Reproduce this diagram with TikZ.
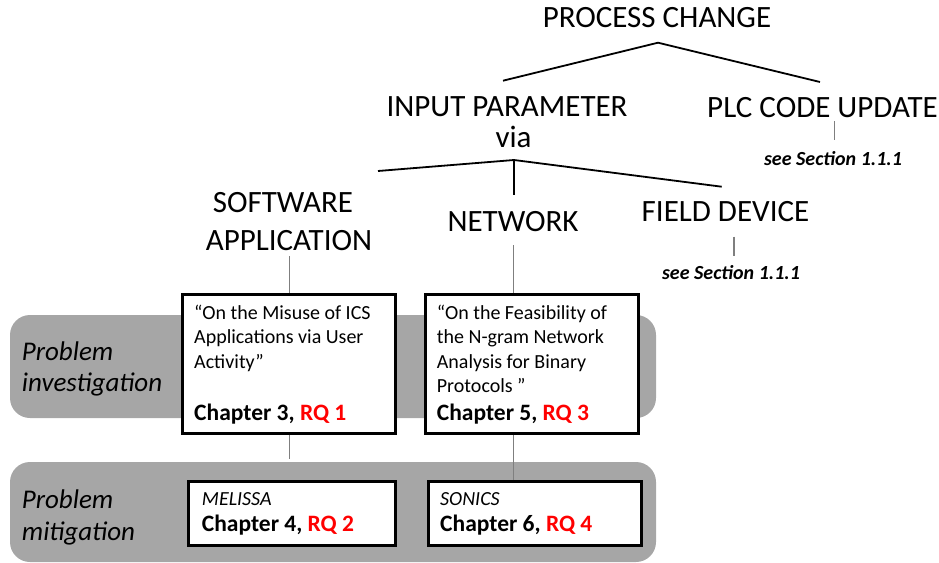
\documentclass[tikz,border=0pt]{standalone}
\usepackage{fontspec}
\setmainfont{Carlito}
\definecolor{bandgray}{HTML}{A6A6A6}
\definecolor{rqred}{HTML}{FF0000}
\definecolor{linegray}{HTML}{7F7F7F}
\begin{document}
\begin{tikzpicture}[x=1pt,y=-1pt,
  big/.style={font=\fontsize{31}{31}\selectfont, inner sep=0, anchor=base, text height=0.68em, text depth=0pt},
  note/.style={font=\fontsize{20}{20}\selectfont\bfseries\itshape, inner sep=0, anchor=base},
  treeline/.style={line width=1.8pt, black},
  thinline/.style={line width=1.2pt, linegray},
  band/.style={fill=bandgray, draw=none, rounded corners=20pt},
  paper/.style={draw=black, line width=3pt, fill=white, inner sep=0, anchor=north west},
  pl/.style={font=\fontsize{20}{20}\selectfont, inner sep=0, anchor=base west},
  plit/.style={font=\fontsize{20}{20}\selectfont\itshape, inner sep=0, anchor=base west},
  chap/.style={font=\fontsize{23.5}{23.5}\selectfont\bfseries, inner sep=0, anchor=base west},
  side/.style={font=\fontsize{27}{27}\selectfont\itshape, inner sep=0, anchor=base west},
]
\useasboundingbox (0,0) rectangle (939,562);
% bands
\path[band] (10,315) rectangle (656,418);
\path[band] (10,462) rectangle (656,562);
% tree texts
\node[big] (pc) at (657,27.5) {PROCESS CHANGE};
\node[big] (ip) at (507,116.5) {INPUT PARAMETER};
\node[big] (via) at (513.5,147) {via};
\node[big] (plc) at (822.5,117) {PLC CODE UPDATE};
\node[note] (n1) at (833,165.5) {see Section 1.1.1};
\node[big] (sw) at (283,212.5) {SOFTWARE};
\node[big] (app) at (289,250) {APPLICATION};
\node[big] (nw) at (513,231.5) {NETWORK};
\node[big] (fd) at (725.5,221.5) {FIELD DEVICE};
\node[note] (n2) at (731,279.5) {see Section 1.1.1};
% tree connectors
\coordinate (apex1) at (658,42.7);
\coordinate (ipend) at (503,80.7);
\coordinate (plcend) at (820,82);
\draw[treeline] (ipend) -- (apex1) -- (plcend);
\coordinate (apex2) at (514,160);
\coordinate (swend) at (378,171);
\coordinate (fdend) at (721.7,186.7);
\coordinate (nwend) at (514,195);
\draw[treeline] (swend) -- (apex2) -- (fdend);
\draw[treeline] (apex2) -- (nwend);
\coordinate (plcx) at (834.3,0);
\coordinate (fdx) at (734,0);
\draw[thinline] ([yshift=-4pt]plc.base -| plcx) -- ([yshift=25.5pt]n1.base -| plcx);
\draw[thinline] ([yshift=-15pt]fd.base -| fdx) -- ([yshift=24pt]n2.base -| fdx);
% papers
\node[paper, minimum width=213pt, minimum height=138.7pt] (b1) at (180.7,293.3) {};
\node[paper, minimum width=213pt, minimum height=138.7pt] (b2) at (424,293.3) {};
\node[paper, minimum width=206.4pt, minimum height=63.7pt] (b3) at (187.3,480) {};
\node[paper, minimum width=213pt, minimum height=63.7pt] (b4) at (426.7,480) {};
\coordinate (swx) at (289.3,0);
\coordinate (nwx) at (513.3,0);
\draw[thinline] ([yshift=-6pt]app.base -| swx) -- (b1.north -| swx);
\draw[thinline] ([yshift=-13.5pt]nw.base -| nwx) -- (b2.north -| nwx);
\draw[thinline] (b1.south -| swx) -- ([yshift=21pt]b3.north -| swx);
\draw[thinline] (b2.south -| nwx) -- (b4.north -| nwx);
% paper texts
\node[pl] (t1a) at ([shift={(13.3,26)}]b1.north west) {“On the Misuse of ICS};
\node[pl] (t1b) at ([shift={(0,24.5)}]t1a.base west) {Applications via User};
\node[pl] (t1c) at ([shift={(0,24.5)}]t1b.base west) {Activity”};
\node[chap] (c1) at ([shift={(13.3,-15)}]b1.south west) {Chapter 3, \textcolor{rqred}{RQ 1}};
\node[pl] (t2a) at ([shift={(12.7,26)}]b2.north west) {“On the Feasibility of};
\node[pl] (t2b) at ([shift={(0,24.5)}]t2a.base west) {the N-gram Network};
\node[pl] (t2c) at ([shift={(0,24.5)}]t2b.base west) {Analysis for Binary};
\node[pl] (t2d) at ([shift={(0,24.5)}]t2c.base west) {Protocols ”};
\node[chap] (c2) at ([shift={(12.7,-15)}]b2.south west) {Chapter 5, \textcolor{rqred}{RQ 3}};
\node[plit] (t3) at ([shift={(14.4,25)}]b3.north west) {MELISSA};
\node[chap] (c3) at ([shift={(14.4,-15)}]b3.south west) {Chapter 4, \textcolor{rqred}{RQ 2}};
\node[plit] (t4) at ([shift={(13.3,25)}]b4.north west) {SONICS};
\node[chap] (c4) at ([shift={(13.3,-15)}]b4.south west) {Chapter 6, \textcolor{rqred}{RQ 4}};
% side labels
\node[side] (pi1) at (21.7,360) {Problem};
\node[side] (pi2) at (21.7,391.7) {investigation};
\node[side] (pm1) at (21.7,508.3) {Problem};
\node[side] (pm2) at (21.7,540) {mitigation};
\end{tikzpicture}
\end{document}
